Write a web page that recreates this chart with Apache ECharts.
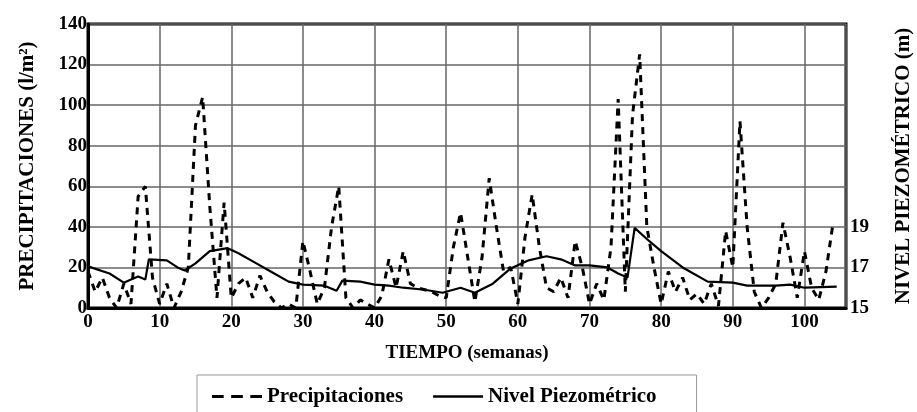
<!DOCTYPE html>
<html>
<head>
<meta charset="utf-8">
<script src="https://cdn.jsdelivr.net/npm/echarts@6/dist/echarts.min.js"></script>
<style>
html,body{margin:0;padding:0;background:#fff;}
#chart{width:917px;height:412px;}
</style>
</head>
<body>
<div id="chart"></div>
<script>
// Weekly precipitation (l/m2), weeks 0..104
var precipWeeks = [];
for (var i = 0; i <= 104; i++) precipWeeks.push(i);
var precipValues = [
  18, 8, 15, 5, 0, 12, 2, 55, 60, 15,
  2, 12, 0, 8, 20, 90, 104, 50, 5, 52,
  5, 12, 15, 5, 16, 8, 3, 0, 2, 0,
  33, 18, 2, 10, 40, 60, 5, 0, 4, 2,
  0, 6, 24, 10, 28, 12, 10, 9, 8, 6,
  5, 30, 47, 25, 3, 25, 64, 40, 18, 20,
  2, 35, 56, 30, 10, 8, 15, 5, 33, 20,
  2, 12, 4, 30, 103, 8, 95, 125, 40, 20,
  2, 18, 8, 15, 4, 7, 2, 12, 1, 38,
  20, 92, 40, 8, 0, 5, 12, 42, 25, 5,
  28, 10, 4, 18, 42
];
// Piezometric level (m)
var levelWeeks = [0,3,5,6,7,8,8.5,11,12.5,13.5,15,17,19.5,21,23.5,26,28,30,33,34.7,35.5,38,40,42,44,47,49.5,52,54,56.5,59,61.5,64,66,68,70,72.5,74,75.3,76.3,78,80,83,86.5,90,92,96,98,100,104.5];
var levelValues = [17.05,16.7,16.25,16.4,16.55,16.4,17.4,17.35,17.0,16.85,17.2,17.8,17.95,17.7,17.2,16.7,16.3,16.15,16.1,15.85,16.35,16.3,16.15,16.1,16.0,15.9,15.75,16.0,15.75,16.2,16.95,17.35,17.55,17.4,17.1,17.1,17.0,16.7,16.5,18.95,18.4,17.8,17.0,16.3,16.25,16.1,16.1,16.15,16.0,16.05];
var leftTicks = [0,20,40,60,80,100,120,140];
var rightTickLabels = [15,17,19];
var xTickLabels = [0,10,20,30,40,50,60,70,80,90,100];

var FONT = '"Liberation Serif","DejaVu Serif",serif';
var precipData = precipWeeks.map(function(w,i){return [w, precipValues[i]];});
var levelData = levelWeeks.map(function(w,i){return [w, levelValues[i]];});

var chart = echarts.init(document.getElementById('chart'), null, {renderer:'canvas'});
chart.setOption({
  animation:false,
  backgroundColor:'#fff',
  grid:{left:88, right:71, top:24, bottom:104, show:true, borderColor:'#000', borderWidth:3,
        backgroundColor:'transparent', containLabel:false, outerBoundsMode:'none'},
  legend:{
    left:197, top:375, itemWidth:50, itemHeight:14, itemGap:30,
    padding:[11,40,14,15],
    borderColor:'#999', borderWidth:1,
    textStyle:{fontFamily:FONT, fontWeight:'bold', fontSize:21, color:'#000'},
    data:[
      {name:'Precipitaciones', icon:'path://M0 0H11V3H0Z M18 0H29V3H18Z M36 0H47V3H36Z'},
      {name:'Nivel Piezométrico', icon:'path://M0 0H48V2.6H0Z'}
    ]
  },
  xAxis:{
    type:'value', min:0, max:105.8, interval:10,
    name:'TIEMPO (semanas)', nameLocation:'middle', nameGap:36,
    nameTextStyle:{fontFamily:FONT, fontWeight:'bold', fontSize:19, color:'#000'},
    axisLine:{show:true, lineStyle:{color:'#000', width:3}},
    axisTick:{show:false},
    axisLabel:{fontFamily:FONT, fontWeight:'bold', fontSize:19, color:'#000', margin:5,
      formatter:function(v){return xTickLabels.indexOf(v)>=0 ? String(v) : '';}},
    splitLine:{show:true, lineStyle:{color:'#666', width:1.5}}
  },
  yAxis:[{
    type:'value', min:0, max:140, interval:20, position:'left',
    name:'PRECIPITACIONES (l/m²)', nameLocation:'middle', nameRotate:90, nameGap:50,
    nameTextStyle:{fontFamily:FONT, fontWeight:'bold', fontSize:21, color:'#000'},
    axisLine:{show:true, lineStyle:{color:'#000', width:3}},
    axisTick:{show:false},
    axisLabel:{fontFamily:FONT, fontWeight:'bold', fontSize:19, color:'#000', margin:1,
      formatter:function(v){return leftTicks.indexOf(v)>=0 ? String(v) : '';}},
    splitLine:{show:true, lineStyle:{color:'#666', width:1.5}}
  },{
    type:'value', min:15, max:29, interval:2, position:'right',
    name:'NIVEL PIEZOMÉTRICO (m)', nameLocation:'middle', nameRotate:90, nameGap:47,
    nameTextStyle:{fontFamily:FONT, fontWeight:'bold', fontSize:21, color:'#000'},
    axisLine:{show:false},
    axisTick:{show:false},
    axisLabel:{fontFamily:FONT, fontWeight:'bold', fontSize:19, color:'#000', margin:4,
      formatter:function(v){return rightTickLabels.indexOf(v)>=0 ? String(v) : '';}},
    splitLine:{show:false}
  }],
  series:[{
    name:'Precipitaciones', type:'line', yAxisIndex:0, data:precipData,
    symbol:'none', smooth:false,
    lineStyle:{color:'#000', width:3, type:[7,6]},
    itemStyle:{color:'#000'}
  },{
    name:'Nivel Piezométrico', type:'line', yAxisIndex:1, data:levelData,
    symbol:'none', smooth:false,
    lineStyle:{color:'#000', width:2.2, type:'solid'},
    itemStyle:{color:'#000'}
  }]
});
</script>
</body>
</html>
